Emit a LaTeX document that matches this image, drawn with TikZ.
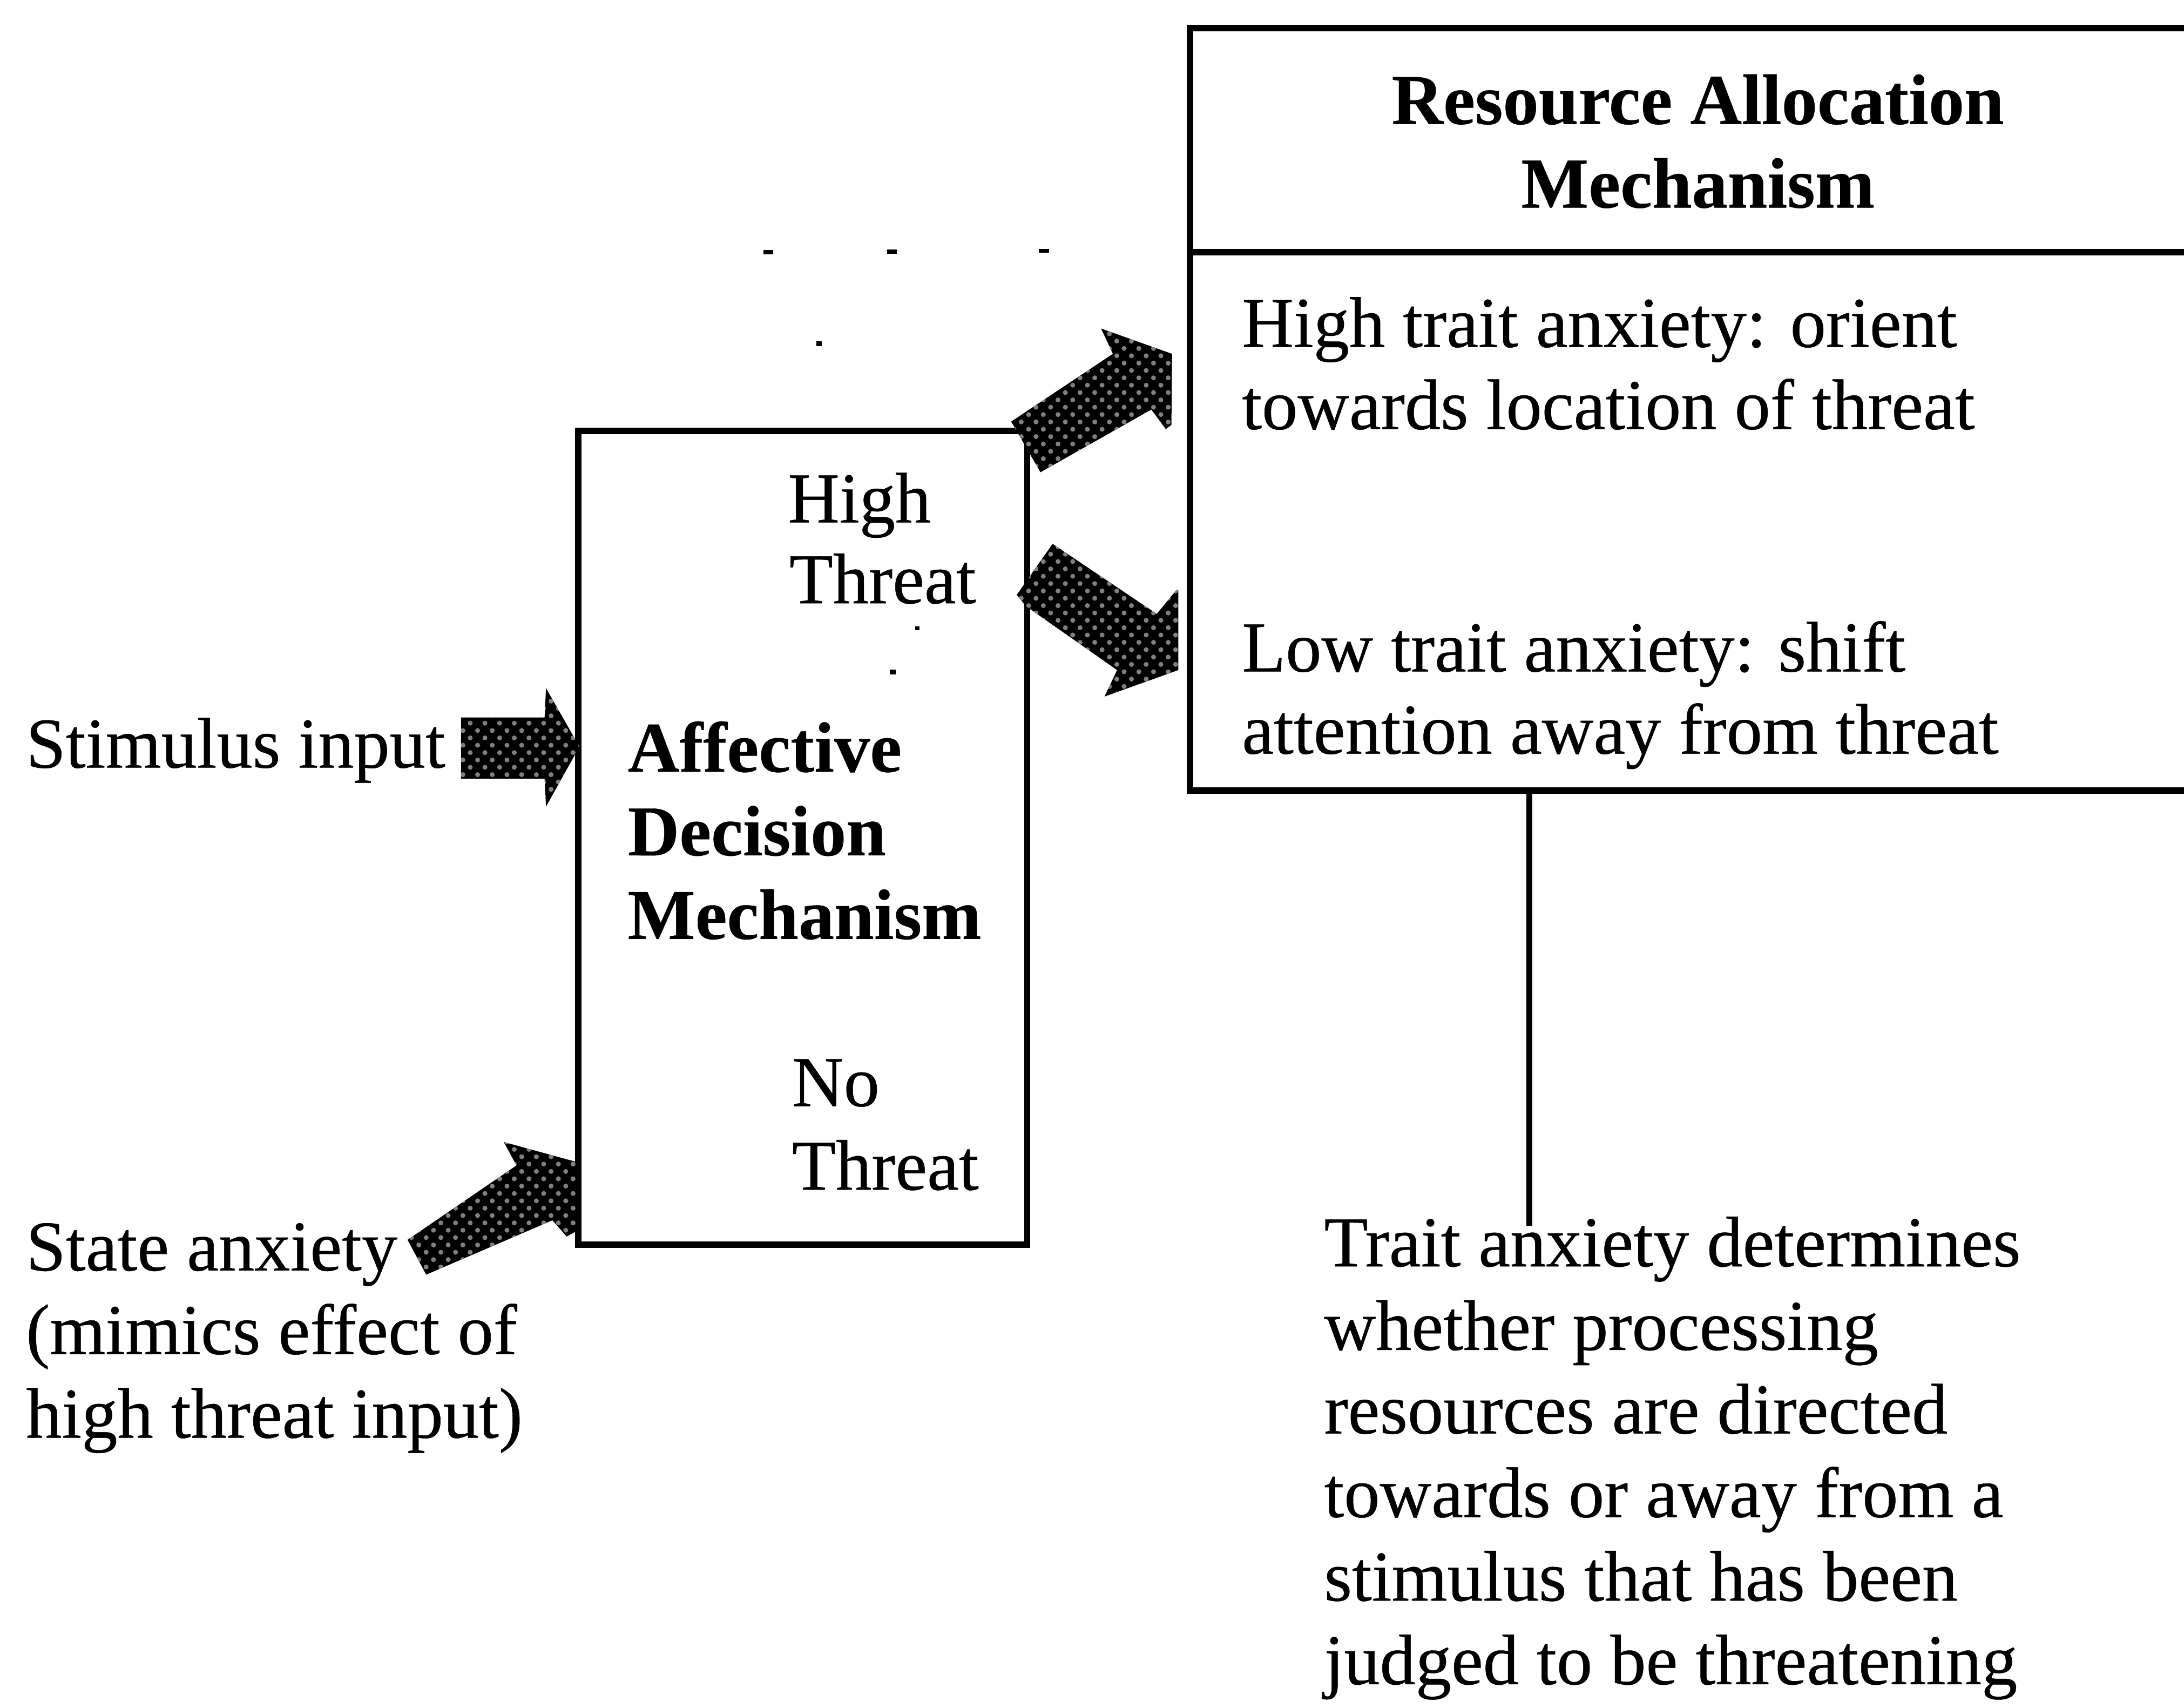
\documentclass[tikz,border=0pt]{standalone}
\usepackage{fontspec}
\setmainfont{Liberation Serif}
\newfontfamily\regscan{Liberation Serif}[FakeBold=0.4]
\newfontfamily\boldscan{Liberation Serif}[UprightFont={* Bold}, FakeBold=0.3]
\usetikzlibrary{patterns}
\begin{document}
\begin{tikzpicture}[x=0.01cm,y=-0.01cm,
  txt/.style={font=\regscan\fontsize{14.6}{17}\selectfont, inner sep=0pt, anchor=base west},
  btxt/.style={font=\boldscan\fontsize{14.6}{17}\selectfont, inner sep=0pt, anchor=base west},
  frame/.style={draw, line width=1.3pt, inner sep=0pt, anchor=north west},
  blockarrow/.style={preaction={fill=black}, pattern=crosshatch dots, pattern color=gray},
  speck/.style={fill=black}]
\useasboundingbox (0,0) rectangle (1568,1226);
\clip (0,0) rectangle (1568,1226);
\fill[white] (0,0) rectangle (1568,1226);

% boxes
\node[frame, minimum width=3.22cm, minimum height=5.84cm] (adm) at (413,307) {};
\node[frame, minimum width=7.8cm, minimum height=5.47cm] (ram) at (852,18) {};
\coordinate (divy) at (0,181);
\draw[line width=1.3pt] (ram.west |- divy) -- (ram.east |- divy);

% right box texts
\node[btxt, anchor=base] (ram1) at (1219,89) {Resource Allocation};
\node[btxt, anchor=base] (ram2) at (1219,149) {Mechanism};
\node[txt] (hi1) at (891,249) {High trait anxiety: orient};
\node[txt] (hi2) at (891,308) {towards location of threat};
\node[txt] (lo1) at (891,482) {Low trait anxiety: shift};
\node[txt] (lo2) at (891,541) {attention away from threat};

% left box texts
\node[txt] (ht1) at (565,375) {High};
\node[txt] (ht2) at (566,433) {Threat};
\node[btxt] (ad1) at (450,554) {Affective};
\node[btxt] (ad2) at (450,614) {Decision};
\node[btxt] (ad3) at (450,674) {Mechanism};
\node[txt] (nt1) at (568,794) {No};
\node[txt] (nt2) at (568,854) {Threat};

% left texts
\node[txt] (stim) at (18,551) {Stimulus input};
\node[txt] (sa1) at (18,912) {State anxiety};
\node[txt] (sa2) at (18,972) {(mimics effect of};
\node[txt] (sa3) at (18,1032) {high threat input)};

% bottom text
\node[txt] (ta1) at (950,909) {Trait anxiety determines};
\node[txt] (ta2) at (950,969) {whether processing};
\node[txt] (ta3) at (950,1029) {resources are directed};
\node[txt] (ta4) at (950,1089) {towards or away from a};
\node[txt] (ta5) at (950,1149) {stimulus that has been};
\node[txt] (ta6) at (950,1209) {judged to be threatening};

% connector from resource box to trait text
\coordinate (linex) at (1098,0);
\coordinate (lineend) at (1098,880);
\draw[line width=1.3pt] (ram.south -| linex) -- (lineend);

% block arrows
\path[blockarrow] (331,515) -- (391,515) -- (392,494) -- (416,536) -- (392,579) -- (391,559) -- (331,559) -- cycle;
\path[blockarrow] (292.6,890) -- (370.8,836.6) -- (361.7,819.8) -- (413.5,834) -- (413.5,884) -- (406.9,887.6) -- (396.6,876) -- (306,915) -- cycle;
\path[blockarrow] (726,302.6) -- (799,254) -- (790.5,235.8) -- (841.5,254) -- (841,305) -- (837,308) -- (826.6,294) -- (747,339) -- cycle;
\path[blockarrow] (755.7,390.4) -- (830.5,440.7) -- (844.7,423.4) -- (846,424) -- (846,481) -- (793,500) -- (802,481) -- (736.4,435) -- (730,427) -- cycle;

% specks
\fill[speck] (548,179.5) rectangle (555,182.5);
\fill[speck] (637,179) rectangle (644,182);
\fill[speck] (746,178.5) rectangle (753,181.5);
\fill[speck] (586,245) rectangle (590,248.5);
\fill[speck] (657,449.5) rectangle (660,452.5);
\fill[speck] (639,480.5) rectangle (643,484);
\end{tikzpicture}
\end{document}
